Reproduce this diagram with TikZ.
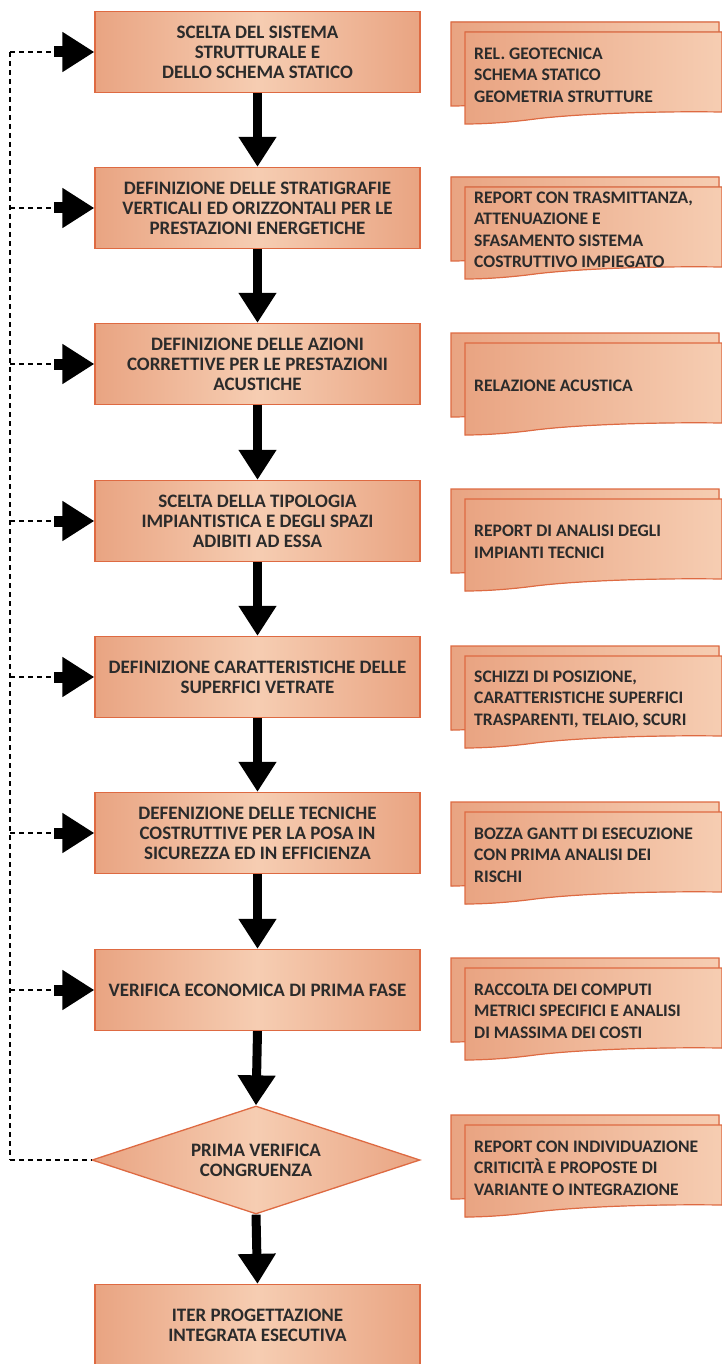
\documentclass[tikz,border=0pt]{standalone}
\usepackage{fontspec}
\setmainfont{Carlito}
\usetikzlibrary{arrows.meta,shapes.geometric}
\definecolor{edgeC}{HTML}{DE6A42}
\definecolor{fillA}{HTML}{E9A482}
\definecolor{fillB}{HTML}{F6CDB2}
\definecolor{txt}{HTML}{2B2B2B}
\tikzset{
  proc/.style={draw=edgeC, line width=1.3pt, left color=fillA, right color=fillA, middle color=fillB,
    minimum width=325pt, minimum height=81pt, align=center, inner sep=0pt,
    font=\fontsize{19}{20}\selectfont\bfseries, text=txt},
  dia/.style={proc, diamond, aspect=3, minimum width=328pt, minimum height=108pt},
  downarrow/.style={line width=9pt, -{Triangle[width=36pt,length=30pt]}},
  sidearrow/.style={line width=11pt, -{Triangle[width=38pt,length=32pt]}},
  dotline/.style={line width=2pt, dash pattern=on 5pt off 4pt},
  docsheet/.style={draw=edgeC, line width=1.2pt, left color=fillA, right color=fillB},
  doctext/.style={anchor=west, align=left, inner sep=0pt, text=txt,
    font=\fontsize{17.6}{21.5}\selectfont\bfseries}
}
\newcommand\docpair[3]{%
  \filldraw[docsheet] (451,#1) -- (719,#1) -- (719,{#1+72}) .. controls (640,{#1+72}) and (560,{#1+76}) .. (520,{#1+80}) .. controls (490,{#1+83}) and (465,{#1+84}) .. (451,{#1+84}) -- cycle;
  \filldraw[docsheet] (465,{#1+10}) -- (722,{#1+10}) -- (722,{#1+90}) .. controls (650,{#1+89}) and (575,{#1+92}) .. (535,{#1+97}) .. controls (505,{#1+101}) and (480,{#1+102}) .. (465,{#1+102}) -- cycle;
  \node[doctext] (#2) at (474,{#1+53}) {#3};
}
\begin{document}
\begin{tikzpicture}[x=1pt,y=-1pt]
\useasboundingbox (0,0) rectangle (722,1364);
\fill[white] (0,0) rectangle (722,1364);

% main process boxes
\node[proc] (b1) at (257.5,52) {SCELTA DEL SISTEMA\\STRUTTURALE E\\DELLO SCHEMA STATICO};
\node[proc] (b2) at (257.5,208) {DEFINIZIONE DELLE STRATIGRAFIE\\VERTICALI ED ORIZZONTALI PER LE\\PRESTAZIONI ENERGETICHE};
\node[proc] (b3) at (257.5,364) {DEFINIZIONE DELLE AZIONI\\CORRETTIVE PER LE PRESTAZIONI\\ACUSTICHE};
\node[proc] (b4) at (257.5,521) {SCELTA DELLA TIPOLOGIA\\IMPIANTISTICA E DEGLI SPAZI\\ADIBITI AD ESSA};
\node[proc] (b5) at (257.5,677) {DEFINIZIONE CARATTERISTICHE DELLE\\SUPERFICI VETRATE};
\node[proc] (b6) at (257.5,833) {DEFENIZIONE DELLE TECNICHE\\COSTRUTTIVE PER LA POSA IN\\SICUREZZA ED IN EFFICIENZA};
\node[proc] (b7) at (257.5,990) {VERIFICA ECONOMICA DI PRIMA FASE};
\node[dia] (d) at (256,1160) {PRIMA VERIFICA\\CONGRUENZA};
\node[proc] (f) at (257.5,1325) {ITER PROGETTAZIONE\\INTEGRATA ESECUTIVA};

% down arrows
\draw[downarrow] (b1.south) -- (b2.north);
\draw[downarrow] (b2.south) -- (b3.north);
\draw[downarrow] (b3.south) -- (b4.north);
\draw[downarrow] (b4.south) -- (b5.north);
\draw[downarrow] (b5.south) -- (b6.north);
\draw[downarrow] (b6.south) -- (b7.north);
\draw[downarrow] (b7.south) -- (d.north);
\draw[downarrow] (d.south) -- (f.north);

% feedback loop
\foreach \i/\y in {1/52,2/208,3/364,4/521,5/677,6/833,7/990}{
  \coordinate (s\i) at (54,\y);
  \coordinate (v\i) at (10,\y);
  \draw[sidearrow] (s\i) -- (b\i.west);
  \draw[dotline] (v\i) -- (s\i);
}
\coordinate (v8) at (10,1160);
\draw[dotline] (v1) -- (v8);
\draw[dotline] (v8) -- (d.west);

% documents
\docpair{22}{r1}{REL. GEOTECNICA\\SCHEMA STATICO\\GEOMETRIA STRUTTURE}
\docpair{177}{r2}{REPORT CON TRASMITTANZA,\\ATTENUAZIONE E\\SFASAMENTO SISTEMA\\COSTRUTTIVO IMPIEGATO}
\docpair{333}{r3}{RELAZIONE ACUSTICA}
\docpair{489}{r4}{REPORT DI ANALISI DEGLI\\IMPIANTI TECNICI}
\docpair{646}{r5}{SCHIZZI DI POSIZIONE,\\CARATTERISTICHE SUPERFICI\\TRASPARENTI, TELAIO, SCURI}
\docpair{802}{r6}{BOZZA GANTT DI ESECUZIONE\\CON PRIMA ANALISI DEI\\RISCHI}
\docpair{958}{r7}{RACCOLTA DEI COMPUTI\\METRICI SPECIFICI E ANALISI\\DI MASSIMA DEI COSTI}
\docpair{1115}{r8}{REPORT CON INDIVIDUAZIONE\\CRITICITÀ E PROPOSTE DI\\VARIANTE O INTEGRAZIONE}
\end{tikzpicture}
\end{document}
